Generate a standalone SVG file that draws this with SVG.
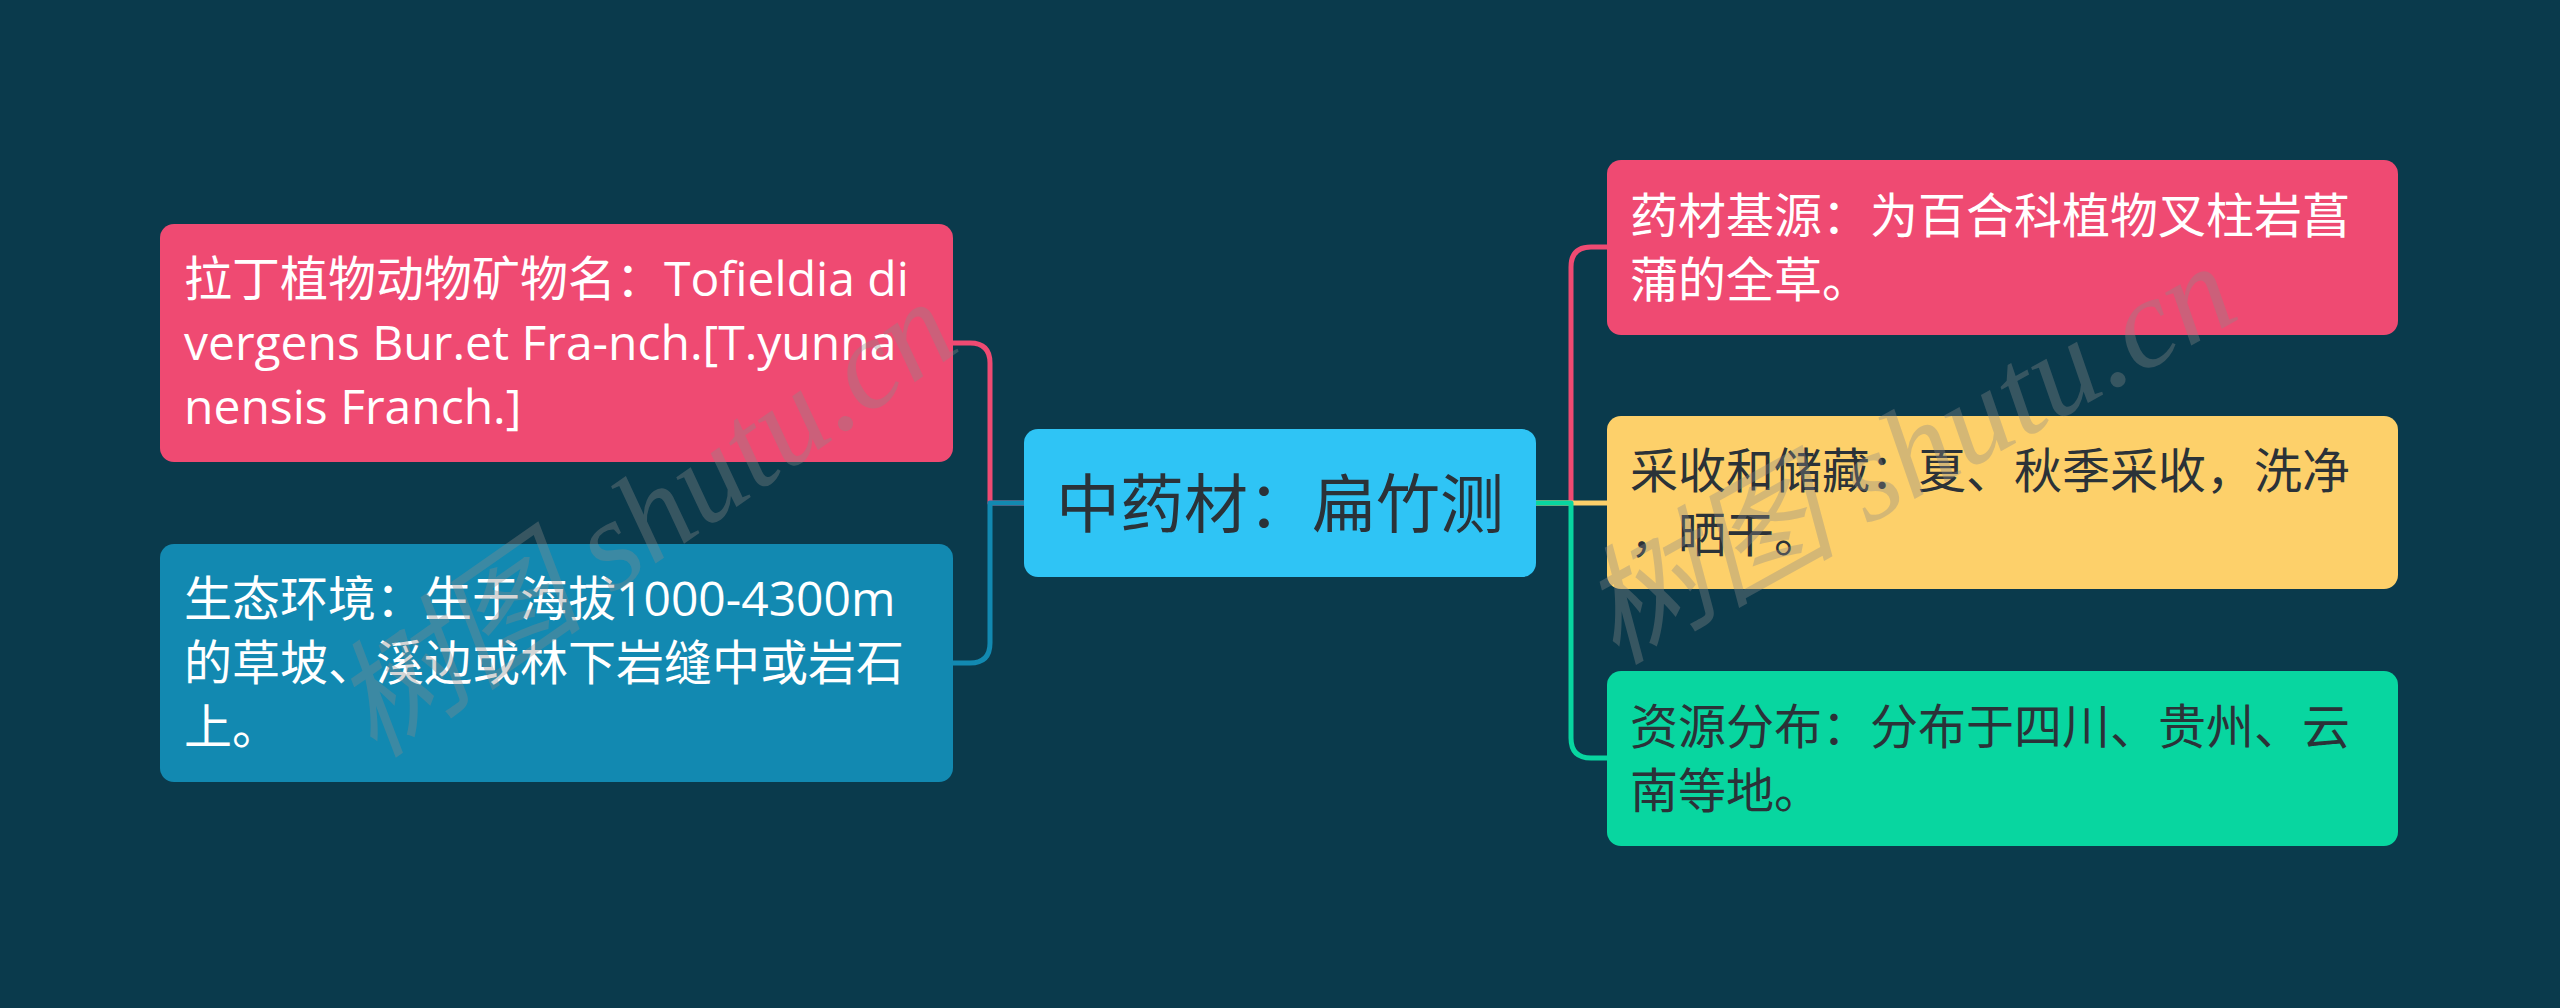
<svg xmlns="http://www.w3.org/2000/svg" width="2560" height="1008" viewBox="0 0 2560 1008">
<style>
.t{font-family:"Open Sans","Noto Sans CJK SC","Noto Sans",sans-serif;font-size:48px}
.w{fill:#ffffff}
.d{fill:#2b3238}
.c{fill:none;stroke-width:5;stroke-linejoin:round}
.wm{font-family:"Liberation Serif","Noto Sans CJK SC",serif;font-style:italic;font-size:128px;fill:#8a8a8a;opacity:0.35}
</style>
<rect x="0" y="0" width="2560" height="1008" fill="#0a3a4c"/>
<g id="connectors">
<path class="c" stroke="#ef4a72" d="M1024,503 H990 V363 Q990,343 970,343 H953"/>
<path class="c" stroke="#1289b1" d="M1024,503 H990 V643 Q990,663 970,663 H953"/>
<path class="c" stroke="#ef4a72" d="M1536,503 H1571 V267 Q1571,247 1591,247 H1607"/>
<path class="c" stroke="#fdd06a" d="M1536,503 H1607"/>
<path class="c" stroke="#08d6a0" d="M1536,503 H1571 V738 Q1571,758 1591,758 H1607"/>
</g>
<g id="root">
<rect x="1024" y="429" width="512" height="148" rx="14" fill="#2fc4f5"/>
<text x="1280" y="527" text-anchor="middle" font-family="'Noto Sans CJK SC','Open Sans',sans-serif" font-size="64" fill="#2b3238">中药材：扁竹测</text>
</g>
<g id="latin-name">
<rect x="160" y="224" width="793" height="238" rx="14" fill="#ef4a72"/>
<text class="t w"><tspan x="184" y="296">拉丁植物动物矿物名：Tofieldia di</tspan><tspan x="184" y="360">vergens Bur.et Fra-nch.[T.yunna</tspan><tspan x="184" y="424">nensis Franch.]</tspan></text>
</g>
<g id="habitat">
<rect x="160" y="544" width="793" height="238" rx="14" fill="#1289b1"/>
<text class="t w"><tspan x="184" y="616">生态环境：生于海拔1000-4300m</tspan><tspan x="184" y="680">的草坡、溪边或林下岩缝中或岩石</tspan><tspan x="184" y="744">上。</tspan></text>
</g>
<g id="source">
<rect x="1607" y="160" width="791" height="175" rx="14" fill="#ef4a72"/>
<text class="t w"><tspan x="1630" y="233">药材基源：为百合科植物叉柱岩菖</tspan><tspan x="1630" y="297">蒲的全草。</tspan></text>
</g>
<g id="harvest">
<rect x="1607" y="416" width="791" height="173" rx="14" fill="#fdd06a"/>
<text class="t d"><tspan x="1630" y="488">采收和储藏：夏、秋季采收，洗净</tspan><tspan x="1630" y="552">，晒干。</tspan></text>
</g>
<g id="distribution">
<rect x="1607" y="671" width="791" height="175" rx="14" fill="#08d6a0"/>
<text class="t d"><tspan x="1630" y="744">资源分布：分布于四川、贵州、云</tspan><tspan x="1630" y="808">南等地。</tspan></text>
</g>
<g id="watermark">
<text class="wm" transform="translate(375,760) rotate(-35)">树图 shutu.cn</text>
<text class="wm" transform="translate(1615,665) rotate(-29)">树图 shutu.cn</text>
</g>
</svg>
